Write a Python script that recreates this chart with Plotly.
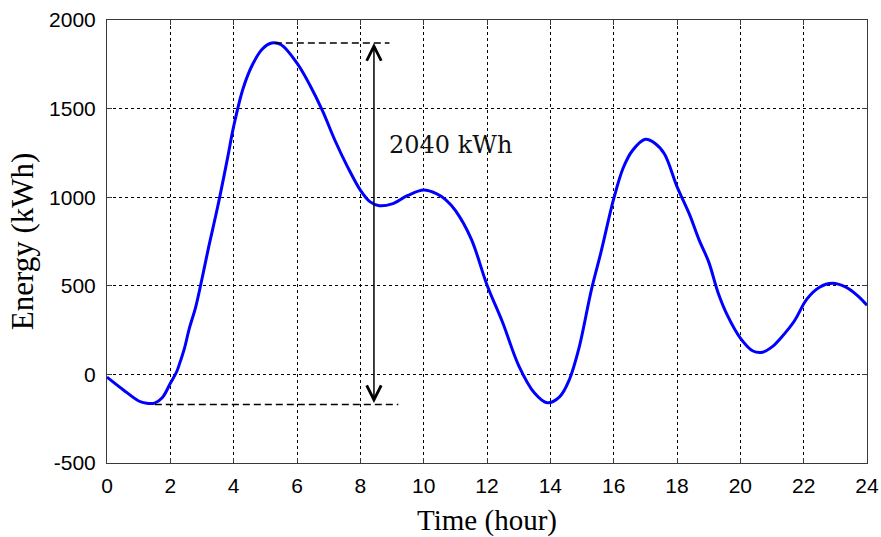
import plotly.graph_objects as go

# ---- data ----
time_h = [0, 0.5, 1.0, 1.25, 1.5, 1.75, 2.0, 2.2, 2.3, 2.45, 2.6, 2.8, 3.0, 3.2, 3.5, 3.8,
          4.0, 4.3, 4.6, 4.9, 5.2, 5.5, 6.0, 6.4, 6.8, 7.2, 7.6, 8.0, 8.3, 8.6, 9.0,
          9.5, 10.0, 10.4, 10.7, 11.0, 11.5, 12.0, 12.5, 13.0, 13.5, 13.9, 14.3, 14.6,
          14.9, 15.3, 15.6, 16.0, 16.3, 16.6, 17.0, 17.3, 17.6, 18.0, 18.4, 18.7, 19.0,
          19.3, 19.6, 20.0, 20.4, 20.7, 21.0, 21.3, 21.7, 22.1, 22.5, 22.9, 23.3, 23.7, 24.0]
energy_kwh = [-15, -85, -150, -163, -162, -130, -50, 15, 65, 150, 260, 380, 540, 710, 950, 1215,
              1400, 1615, 1750, 1835, 1870, 1860, 1756, 1635, 1490, 1320, 1170, 1040, 975, 952, 962,
              1010, 1040, 1020, 985, 925, 765, 505, 290, 50, -105, -160, -125, -30,
              145, 480, 690, 990, 1165, 1265, 1327, 1305, 1245, 1060, 900, 758, 635,
              460, 330, 205, 132, 125, 155, 210, 300, 425, 492, 514, 495, 445, 390]

x_ticks = [0, 2, 4, 6, 8, 10, 12, 14, 16, 18, 20, 22, 24]
y_ticks = [-500, 0, 500, 1000, 1500, 2000]

peak_value = 1870
trough_value = -170
upper_ref_x = [5.3, 8.92]
lower_ref_x = [1.51, 9.2]
arrow_x = 8.43
label_text = "2040 kWh"
label_pos = (8.85, 1294)

fig = go.Figure()

fig.add_trace(go.Scatter(x=time_h, y=energy_kwh, mode="lines",
                         line=dict(color="#0000FF", width=3, shape="spline", smoothing=1.0),
                         showlegend=False, hoverinfo="skip"))

# dashed reference lines
fig.add_trace(go.Scatter(x=upper_ref_x, y=[peak_value, peak_value], mode="lines",
                         line=dict(color="black", width=1.5, dash="7px,4px"),
                         showlegend=False, hoverinfo="skip"))
fig.add_trace(go.Scatter(x=lower_ref_x, y=[trough_value, trough_value], mode="lines",
                         line=dict(color="black", width=1.5, dash="7px,4px"),
                         showlegend=False, hoverinfo="skip"))

# double-headed arrow
fig.add_annotation(x=arrow_x, y=peak_value, ax=arrow_x, ay=trough_value,
                   xref="x", yref="y", axref="x", ayref="y", text="",
                   showarrow=True, arrowhead=5, startarrowhead=5, arrowside="end+start",
                   arrowwidth=1.5, arrowsize=1.9, startarrowsize=1.9, arrowcolor="black")

fig.add_annotation(x=label_pos[0], y=label_pos[1], xref="x", yref="y", text=label_text,
                   showarrow=False, xanchor="left", yanchor="middle",
                   font=dict(family="DejaVu Serif", size=24, color="#111"))

axis_common = dict(showline=True, linecolor="#3a3a3a", linewidth=1, mirror="ticks",
                   ticks="inside", ticklen=5, tickcolor="#3a3a3a",
                   showgrid=True, gridcolor="black", gridwidth=1, griddash="3px,3px",
                   zeroline=False, automargin=False,
                   tickfont=dict(family="Liberation Sans, Arial", size=21, color="black"))

fig.update_xaxes(range=[0, 24], tickvals=x_ticks, ticktext=[str(v) for v in x_ticks],
                 ticklabelstandoff=4,
                 title=dict(text="Time (hour)", standoff=22,
                            font=dict(family="Liberation Serif, Times New Roman", size=29, color="black")),
                 **axis_common)
fig.update_yaxes(range=[-500, 2000], tickvals=y_ticks, ticktext=[str(v) for v in y_ticks],
                 ticklabelstandoff=6,
                 title=dict(text="Energy (kWh)", standoff=6,
                            font=dict(family="Liberation Serif, Times New Roman", size=31, color="black")),
                 **axis_common)

fig.update_layout(width=881, height=537, margin=dict(l=107, r=14, t=20, b=74),
                  plot_bgcolor="white", paper_bgcolor="white")

fig.write_html("out.html", config={"displayModeBar": False, "staticPlot": True},
               post_script="document.body.style.margin='0';document.body.style.overflow='hidden';")
